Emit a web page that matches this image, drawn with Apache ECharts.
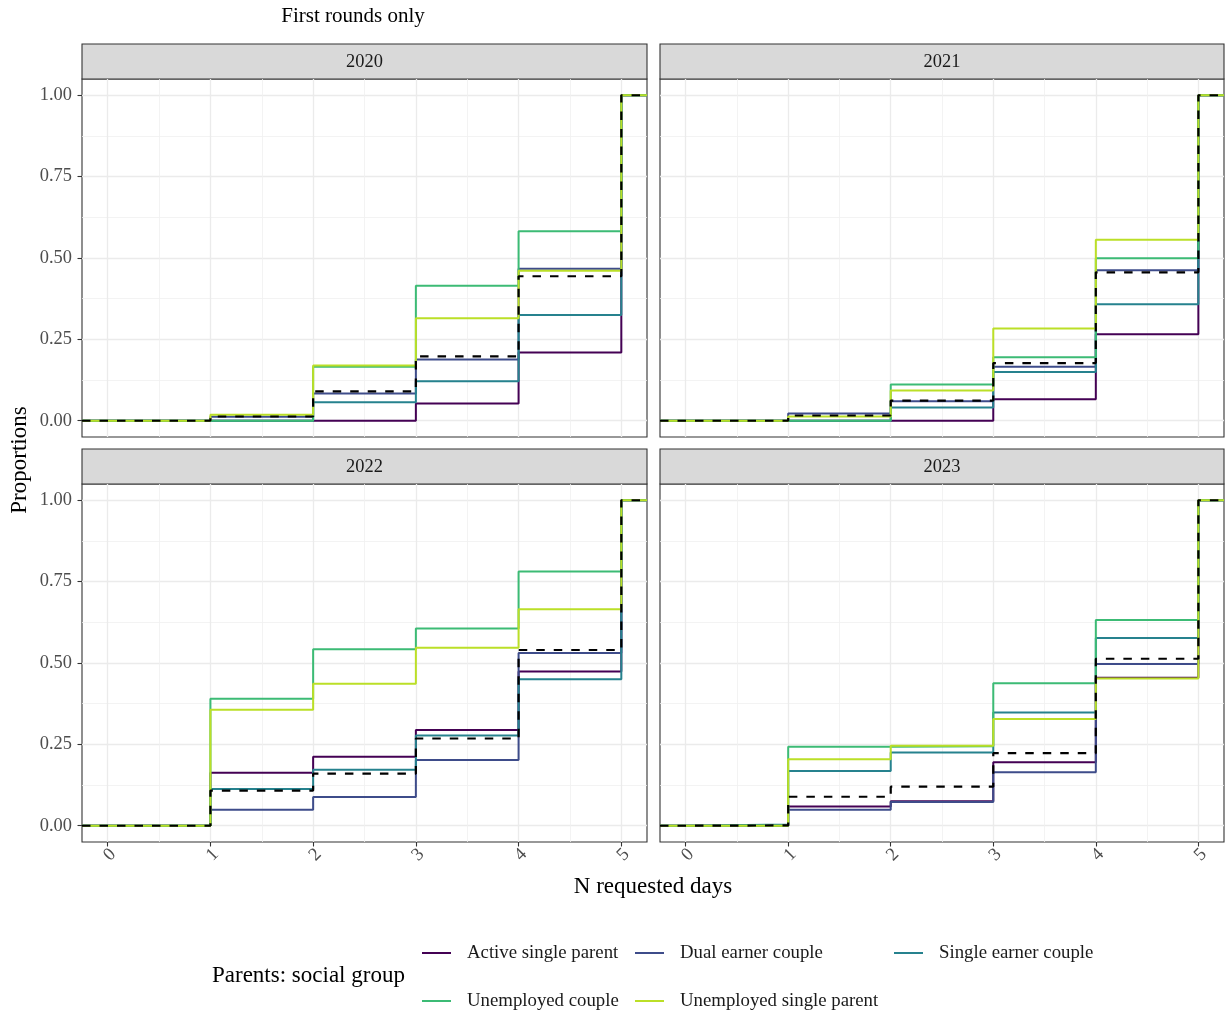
<!DOCTYPE html>
<html><head><meta charset="utf-8">
<script src="https://cdn.jsdelivr.net/npm/echarts@6/dist/echarts.min.js"></script>
<style>html,body{margin:0;padding:0;background:#fff}#c{width:1225px;height:1012px}</style>
</head><body><div id="c"></div>
<script>
// ---------- data ----------
const years = ['2020', '2021', '2022', '2023'];
const days = [0, 1, 2, 3, 4, 5];
const groups = ['Active single parent', 'Dual earner couple', 'Single earner couple', 'Unemployed couple', 'Unemployed single parent'];
const overallName = 'All parents';
const xTicks = [0, 1, 2, 3, 4, 5];
const yTicks = [0, 0.25, 0.5, 0.75, 1];

// cumulative proportions by N requested days (0..5)
const active2020  = [0, 0,     0,     0.053, 0.210, 1];
const dual2020    = [0, 0.012, 0.084, 0.188, 0.467, 1];
const single2020  = [0, 0,     0.057, 0.121, 0.325, 1];
const unempC2020  = [0, 0,     0.166, 0.415, 0.582, 1];
const unempS2020  = [0, 0.018, 0.170, 0.315, 0.461, 1];
const all2020     = [0, 0.013, 0.090, 0.198, 0.444, 1];

const active2021  = [0, 0,     0,     0.066, 0.266, 1];
const dual2021    = [0, 0.022, 0.060, 0.166, 0.462, 1];
const single2021  = [0, 0,     0.041, 0.150, 0.358, 1];
const unempC2021  = [0, 0,     0.111, 0.195, 0.499, 1];
const unempS2021  = [0, 0.013, 0.093, 0.283, 0.556, 1];
const all2021     = [0, 0.016, 0.062, 0.177, 0.456, 1];

const active2022  = [0, 0.163, 0.212, 0.294, 0.474, 1];
const dual2022    = [0, 0.049, 0.088, 0.202, 0.531, 1];
const single2022  = [0, 0.113, 0.172, 0.277, 0.450, 1];
const unempC2022  = [0, 0.390, 0.542, 0.606, 0.781, 1];
const unempS2022  = [0, 0.356, 0.436, 0.547, 0.665, 1];
const all2022     = [0, 0.108, 0.160, 0.268, 0.540, 1];

const active2023  = [0,     0.059, 0.075, 0.195, 0.455, 1];
const dual2023    = [0,     0.049, 0.073, 0.164, 0.497, 1];
const single2023  = [0.004, 0.168, 0.225, 0.348, 0.577, 1];
const unempC2023  = [0,     0.243, 0.244, 0.438, 0.632, 1];
const unempS2023  = [0,     0.204, 0.246, 0.328, 0.452, 1];
const all2023     = [0.001, 0.089, 0.120, 0.223, 0.513, 1];

const groupData = {
  '2020': [active2020, dual2020, single2020, unempC2020, unempS2020],
  '2021': [active2021, dual2021, single2021, unempC2021, unempS2021],
  '2022': [active2022, dual2022, single2022, unempC2022, unempS2022],
  '2023': [active2023, dual2023, single2023, unempC2023, unempS2023]
};
const overallData = { '2020': all2020, '2021': all2021, '2022': all2022, '2023': all2023 };

// ---------- style / layout ----------
const colors = ['#440154', '#3E4C8A', '#26828E', '#3CBB75', '#BBDF27'];
const FONT = 'Liberation Serif';
const xMin = -0.25, xMax = 5.25, yMin = -0.05, yMax = 1.05;
const panels = [
  { left: 82, top: 79, width: 565, height: 358 },
  { left: 660, top: 79, width: 564, height: 358 },
  { left: 82, top: 484, width: 565, height: 358 },
  { left: 660, top: 484, width: 564, height: 358 }
];
// legend item placement (same order as groups)
const legendPos = [
  { left: 422, top: 943.5 }, { left: 635, top: 943.5 }, { left: 894, top: 943.5 },
  { left: 422, top: 991.5 }, { left: 635, top: 991.5 }
];
const mids = a => a.slice(1).map((v, i) => (v + a[i]) / 2);
const xMinor = mids(xTicks);
const yMinor = mids(yTicks);

function stepData(vals) {
  const pts = [[xMin, 0]];
  days.forEach((d, i) => pts.push([d, vals[i]]));
  pts.push([xMax, vals[vals.length - 1]]);
  return pts;
}

const grids = [], xAxes = [], yAxes = [], series = [], graphics = [];
panels.forEach((p, i) => {
  grids.push({ left: p.left, top: p.top, width: p.width, height: p.height, show: true,
    borderColor: '#333333', borderWidth: 1.1, backgroundColor: '#fff', containLabel: false });
});
panels.forEach((p, i) => {
  const bottomRow = i >= 2, leftCol = i % 2 === 0;
  xAxes.push({
    type: 'value', gridIndex: i, min: xMin, max: xMax, interval: 0.25, position: 'bottom',
    axisLine: { show: false, onZero: false },
    axisTick: { show: bottomRow, customValues: xTicks, length: 4.5, lineStyle: { color: '#333333', width: 1.1 } },
    axisLabel: { show: bottomRow, customValues: xTicks, rotate: 45, align: 'center', verticalAlign: 'middle',
      margin: 15, padding: [0, 0, 0, 6], fontFamily: FONT, fontSize: 18.4, color: '#4D4D4D', formatter: v => String(v) },
    splitLine: { show: true, lineStyle: { color: '#EBEBEB', width: 1.3 } }
  });
  yAxes.push({
    type: 'value', gridIndex: i, min: yMin, max: yMax, interval: 0.05, position: 'left',
    axisLine: { show: false, onZero: false },
    axisTick: { show: leftCol, customValues: yTicks, length: 4.5, lineStyle: { color: '#333333', width: 1.1 } },
    axisLabel: { show: leftCol, customValues: yTicks, margin: 10, fontFamily: FONT, fontSize: 18.4,
      color: '#4D4D4D', formatter: v => v.toFixed(2) },
    splitLine: { show: true, lineStyle: { color: '#EBEBEB', width: 1.3 } }
  });
});
panels.forEach((p, i) => {
  xAxes.push({
    type: 'value', gridIndex: i, min: xMin, max: xMax, interval: 0.25,
    axisLine: { show: false, onZero: false }, axisLabel: { show: false },
    axisTick: { show: false, customValues: xMinor },
    splitLine: { show: true, lineStyle: { color: '#F0F0F0', width: 0.8 } }
  });
  yAxes.push({
    type: 'value', gridIndex: i, min: yMin, max: yMax, interval: 0.05,
    axisLine: { show: false, onZero: false }, axisLabel: { show: false },
    axisTick: { show: false, customValues: yMinor },
    splitLine: { show: true, lineStyle: { color: '#F0F0F0', width: 0.8 } }
  });
});

years.forEach((yr, i) => {
  groups.forEach((g, k) => {
    series.push({
      type: 'line', name: g, xAxisIndex: i, yAxisIndex: i, step: 'end', symbol: 'none',
      data: stepData(groupData[yr][k]), color: colors[k],
      lineStyle: { color: colors[k], width: 2 }, silent: true, animation: false, z: 3
    });
  });
  series.push({
    type: 'line', name: overallName, xAxisIndex: i, yAxisIndex: i, step: 'end', symbol: 'none',
    data: stepData(overallData[yr]), color: '#000',
    lineStyle: { color: '#000000', width: 2.2, type: [8.5, 9] }, silent: true, animation: false, z: 4
  });
  const p = panels[i];
  graphics.push({ type: 'rect', shape: { x: p.left, y: p.top - 35, width: p.width, height: 35 },
    style: { fill: '#D9D9D9', stroke: '#333333', lineWidth: 1.1 } });
  graphics.push({ type: 'text', x: p.left + p.width / 2, y: p.top - 16.5,
    style: { text: yr, align: 'center', verticalAlign: 'middle', font: '18.4px "' + FONT + '"', fill: '#1A1A1A' } });
});

graphics.push({ type: 'text', x: 353, y: 16, style: { text: 'First rounds only', align: 'center', verticalAlign: 'middle',
  font: '21px "' + FONT + '"', fill: '#000' } });
graphics.push({ type: 'text', x: 20, y: 460, rotation: Math.PI / 2, style: { text: 'Proportions', align: 'center',
  verticalAlign: 'middle', font: '23px "' + FONT + '"', fill: '#000' } });
graphics.push({ type: 'text', x: 653, y: 887, style: { text: 'N requested days', align: 'center',
  verticalAlign: 'middle', font: '23px "' + FONT + '"', fill: '#000' } });
graphics.push({ type: 'text', x: 212, y: 976, style: { text: 'Parents: social group', align: 'left',
  verticalAlign: 'middle', font: '23px "' + FONT + '"', fill: '#000' } });

const legends = groups.map((g, k) => ({
  orient: 'horizontal', left: legendPos[k].left, top: legendPos[k].top, padding: 0,
  itemWidth: 29, itemHeight: 14, icon: 'path://M0,6 L29,6 L29,8 L0,8 Z',
  textStyle: { fontFamily: FONT, fontSize: 18.8, color: '#1A1A1A', padding: [0, 0, 0, 11] },
  selectedMode: false, data: [g]
}));

const chart = echarts.init(document.getElementById('c'), null, { renderer: 'canvas' });
chart.setOption({
  animation: false,
  backgroundColor: '#ffffff',
  grid: grids, xAxis: xAxes, yAxis: yAxes, series: series,
  legend: legends, graphic: graphics
});
</script></body></html>
